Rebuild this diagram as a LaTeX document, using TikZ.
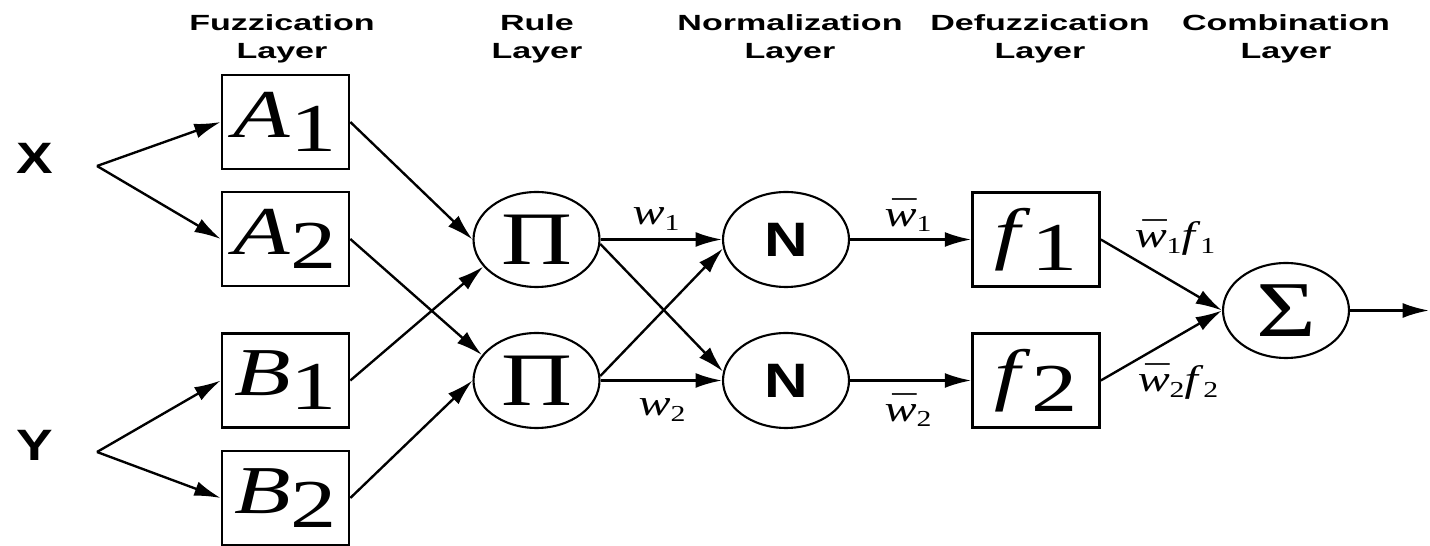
\documentclass[tikz,border=0pt]{standalone}
\usepackage{fontspec}
\setmainfont{Liberation Serif}
\newfontfamily\hvh[FakeStretch=1.55]{Liberation Sans}
\newfontfamily\hvb[FakeStretch=1.25]{Liberation Sans}
\newfontfamily\tms{Liberation Serif}
\usetikzlibrary{shapes.geometric,arrows.meta}
\newcommand\bxt[2]{\scalebox{1.35}[1]{\tms\fontsize{39}{39}\selectfont\textit{#1}\raisebox{-8pt}{#2}}}
\newcommand\subs[1]{\raisebox{-3pt}{\fontsize{13}{13}\selectfont #1}}
\newcommand\wbarg{\accent"AF w}
\newcommand\wl[1]{\scalebox{1.3}[1]{\tms\fontsize{21}{21}\selectfont\textit{w}\subs{#1}}}
\newcommand\wbl[1]{\scalebox{1.3}[1]{\tms\fontsize{21}{21}\selectfont\textit{\wbarg}\subs{#1}}}
\newcommand\wfl[1]{\scalebox{1.3}[1]{\tms\fontsize{21}{21}\selectfont\textit{\wbarg}\subs{#1}\textit{f}\subs{#1}}}
\newcommand\bigsym[2]{\scalebox{1.3}[1]{\tms\fontsize{#1}{#1}\selectfont #2}}
\tikzset{
  box/.style={draw, line width=1.5pt, minimum width=2.54cm, minimum height=1.88cm, inner sep=0pt},
  ell/.style={draw, ellipse, line width=1.2pt, minimum width=2.52cm, minimum height=1.9cm, inner sep=0pt},
  hdr/.style={font=\hvh\bfseries\fontsize{12.5}{15.9}\selectfont, align=center, inner sep=0pt},
  inp/.style={font=\hvb\bfseries\fontsize{25}{25}\selectfont, inner sep=0pt},
  lbl/.style={inner sep=0pt},
  arr/.style={-{Latex[length=15pt,width=8.5pt]}, line width=1.35pt},
}
\begin{document}
\begin{tikzpicture}[x=0.02cm,y=-0.02cm]
\useasboundingbox (0,0) rectangle (1430,546);
% headers
\node[hdr] (h1) at (282,39) {Fuzzication\\Layer};
\node[hdr] (h2) at (537,39) {Rule\\Layer};
\node[hdr] (h3) at (790,39) {Normalization\\Layer};
\node[hdr] (h4) at (1040,39) {Defuzzication\\Layer};
\node[hdr] (h5) at (1286,39) {Combination\\Layer};
% inputs
\node[inp] (X) at (35,158) {X};
\node[inp] (Y) at (35,445) {Y};
\coordinate (xb) at (97,166);
\coordinate (yb) at (97,452);
% fuzzification
\node[box] (A1) at (285.5,122) {\bxt{A}{1}};
\node[box] (A2) at (285.5,239) {\bxt{A}{2}};
\node[box] (B1) at (285.5,380.5) {\bxt{B}{1}};
\node[box] (B2) at (285.5,498) {\bxt{B}{2}};
% rule
\node[ell] (P1) at (536.5,239.5) {\bigsym{43}{Π}};
\node[ell] (P2) at (536.5,380.5) {\bigsym{43}{Π}};
% normalization
\node[ell] (N1) at (786,239.5) {\hvb\bfseries\fontsize{27.5}{27.5}\selectfont N};
\node[ell] (N2) at (786,380.5) {\hvb\bfseries\fontsize{27.5}{27.5}\selectfont N};
% defuzzification
\node[box] (F1) at (1036,239.5) {\bxt{f}{1}};
\node[box] (F2) at (1036,380.5) {\bxt{f}{2}};
% combination
\node[ell] (S) at (1286,310.5) {\bigsym{45}{Σ}};
\coordinate (out) at (1429,310.5);
% connectors
\draw[arr] (xb) -- (A1.west);
\draw[arr] (xb) -- (A2.west);
\draw[arr] (yb) -- (B1.west);
\draw[arr] (yb) -- (B2.west);
\draw[arr] (A1.east) -- (P1.west);
\draw[arr] (B1.east) -- (P1.207);
\draw[arr] (A2.east) -- (P2.155);
\draw[arr] (B2.east) -- (P2.west);
\draw[arr] (P1.east) -- (N1.west);
\draw[arr] (P1.-4) -- (N2.172);
\draw[arr] (P2.4) -- (N1.188);
\draw[arr] (P2.east) -- (N2.west);
\draw[arr] (N1.east) -- (F1.west);
\draw[arr] (N2.east) -- (F2.west);
\draw[arr] (F1.east) -- (S.west);
\draw[arr] (F2.east) -- (S.west);
\draw[arr] (S.east) -- (out);
% labels
\node[lbl] (w1) at (656,219) {\wl{1}};
\node[lbl] (w2) at (662,410) {\wl{2}};
\node[lbl] (wb1) at (908,215) {\wbl{1}};
\node[lbl] (wb2) at (908,410) {\wbl{2}};
\node[lbl] (wf1) at (1175,238) {\wfl{1}};
\node[lbl] (wf2) at (1178,382) {\wfl{2}};
\end{tikzpicture}
\end{document}
